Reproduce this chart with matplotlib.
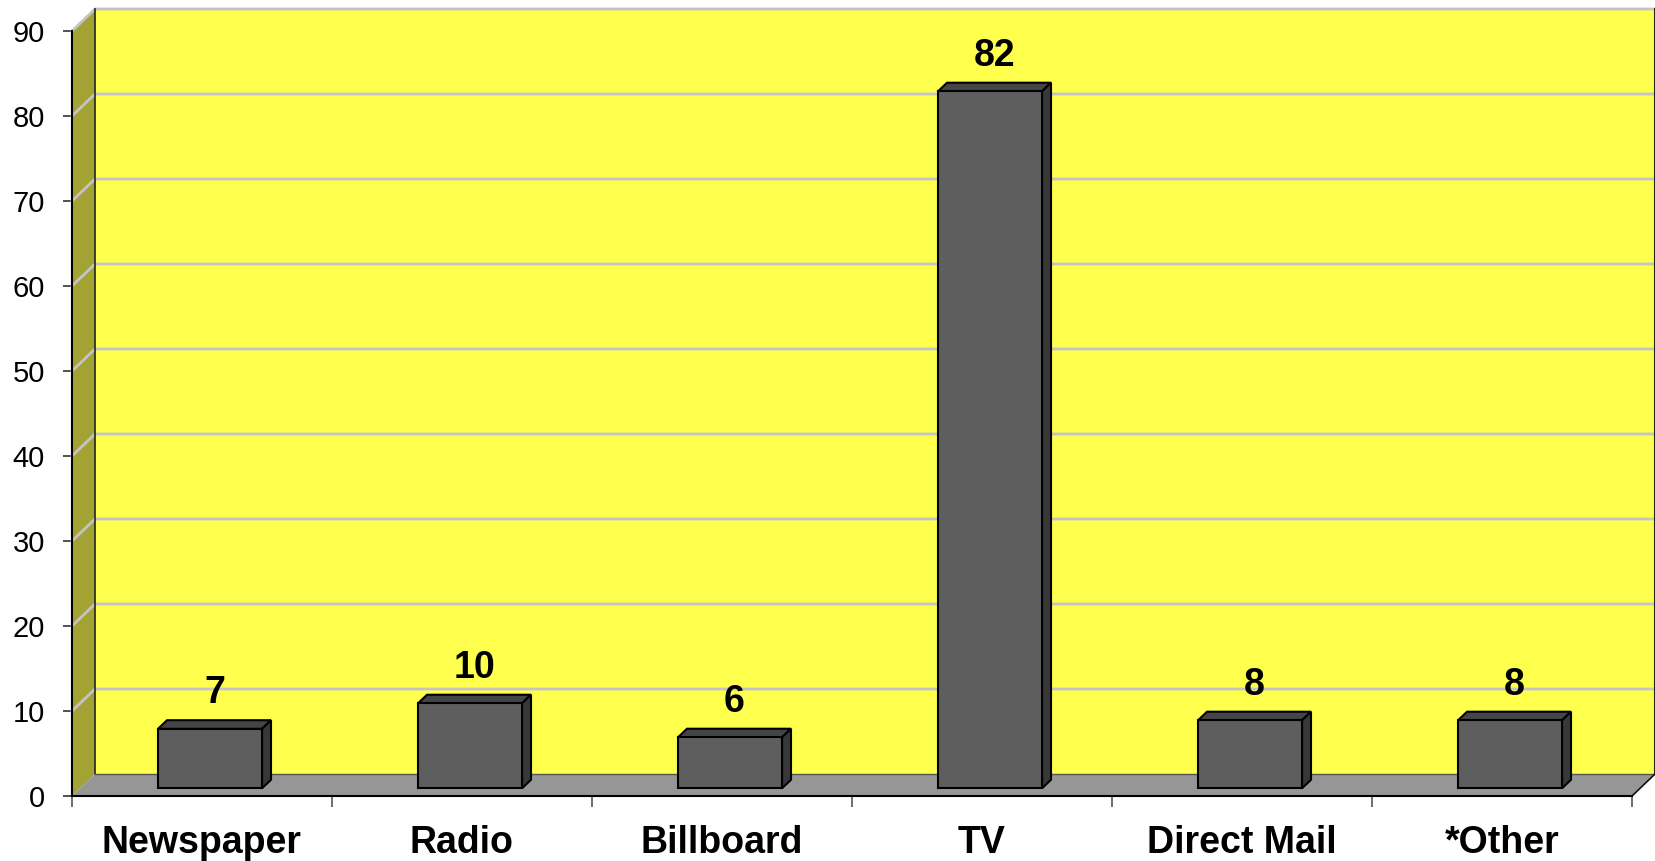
import matplotlib
matplotlib.use('Agg')
import matplotlib.pyplot as plt
from matplotlib.patches import Polygon

categories = ['Newspaper', 'Radio', 'Billboard', 'TV', 'Direct Mail', '*Other']
values = [7, 10, 6, 82, 8, 8]
y_ticks = [0, 10, 20, 30, 40, 50, 60, 70, 80, 90]

plt.rcParams['font.family'] = ['Liberation Sans', 'DejaVu Sans']

# depth vector of the fake 3D box, in data units
DX = 23 / 260
DY = 22 / 8.5
T0, T1 = 0.35, 0.74   # bar front/back as fraction of the depth
BAR_W = 0.4

fig = plt.figure(figsize=(16.56, 8.61), dpi=100)
ax = fig.add_axes([72 / 1656, 65 / 861, 1560 / 1656, 765 / 861])
ax.set_xlim(0, len(categories))
ax.set_ylim(0, 90)
ax.patch.set_visible(False)

n = len(categories)
ymax = y_ticks[-1]

# back wall
ax.add_patch(Polygon([(DX, DY), (n + DX, DY), (n + DX, ymax + DY), (DX, ymax + DY)],
                     closed=True, facecolor='#FFFF4D', edgecolor='none', zorder=1, clip_on=False))
# left wall
ax.add_patch(Polygon([(0, 0), (DX, DY), (DX, ymax + DY), (0, ymax)],
                     closed=True, facecolor='#A3A334', edgecolor='none', zorder=1, clip_on=False))

# gridlines on back wall and left wall
for k in y_ticks[1:]:
    ax.plot([0, DX, n + DX], [k, k + DY, k + DY], color='#C4C4C4', lw=2, zorder=2, clip_on=False)
ax.plot([DX, DX], [DY, ymax + DY], color='#222222', lw=1.2, zorder=2, clip_on=False)
ax.plot([n + DX, n + DX], [DY, ymax + DY], color='#222222', lw=1.5, zorder=2, clip_on=False)

# floor
ax.add_patch(Polygon([(0, 0), (n, 0), (n + DX, DY), (DX, DY)],
                     closed=True, facecolor='#969696', edgecolor='none', zorder=3, clip_on=False))
ax.plot([DX, n + DX], [DY, DY], color='#555555', lw=1, zorder=3, clip_on=False)
ax.plot([n, n + DX], [0, DY], color='#111111', lw=1.2, zorder=3, clip_on=False)

# bars
for i, v in enumerate(values):
    c = i + 0.5
    x0 = c - BAR_W / 2 + T0 * DX
    x1 = c + BAR_W / 2 + T0 * DX
    y0 = T0 * DY
    y1 = v + T0 * DY
    ddx = (T1 - T0) * DX
    ddy = (T1 - T0) * DY
    kw = dict(closed=True, edgecolor='black', lw=1.5, zorder=5, clip_on=False)
    ax.add_patch(Polygon([(x0, y1), (x1, y1), (x1 + ddx, y1 + ddy), (x0 + ddx, y1 + ddy)],
                         facecolor='#454545', **kw))
    ax.add_patch(Polygon([(x1, y0), (x1 + ddx, y0 + ddy), (x1 + ddx, y1 + ddy), (x1, y1)],
                         facecolor='#383838', **kw))
    ax.add_patch(Polygon([(x0, y0), (x1, y0), (x1, y1), (x0, y1)],
                         facecolor='#5E5E5E', **kw))
    ax.text(c + (T0 + T1) / 2 * DX, v + T1 * DY + 2.0, str(v), ha='center', va='baseline',
            fontsize=27, fontweight='bold', zorder=6, clip_on=False)

# axes
for side in ['top', 'right']:
    ax.spines[side].set_visible(False)
for side in ['left', 'bottom']:
    ax.spines[side].set_color('black')
    ax.spines[side].set_linewidth(1.5)
    ax.spines[side].set_zorder(7)

ax.set_yticks(y_ticks)
ax.set_yticklabels([str(t) for t in y_ticks], fontsize=21)
ax.tick_params(axis='y', length=6.5, width=1.2, color='#333333', pad=13)

ax.set_xticks(range(n + 1))
ax.set_xticklabels([])
ax.tick_params(axis='x', length=8, width=1.2, color='#555555')
for i, name in enumerate(categories):
    ax.text(i + 0.5, -6.7, name, ha='center', va='baseline', fontsize=27,
            fontweight='bold', clip_on=False)

fig.savefig('out.png', dpi=100)
